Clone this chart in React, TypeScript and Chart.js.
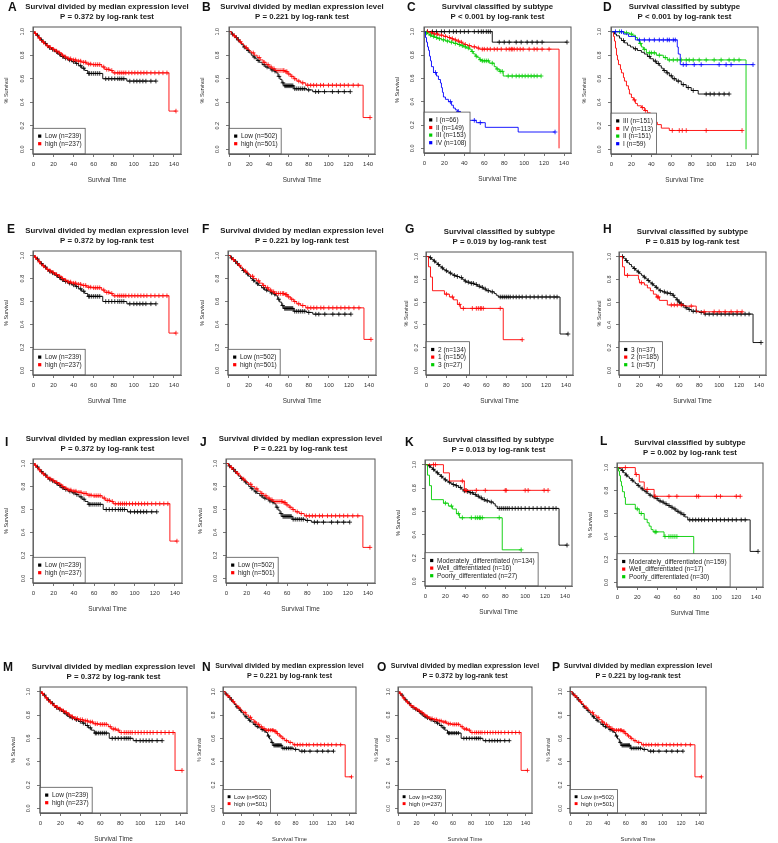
import React, { useEffect, useRef } from 'react';
import { Chart, registerables } from 'chart.js';

Chart.register(...registerables);

// ---------------- axis ticks ----------------
const xTicks = [0, 20, 40, 60, 80, 100, 120, 140];
const yTicks = [0, 0.2, 0.4, 0.6, 0.8, 1.0];

// ---------------- titles ----------------
const titleMedian = 'Survival divided by median expression level';
const titleSubtype = 'Survival classified by subtype';
const p372 = 'P = 0.372 by log-rank test';
const p221 = 'P = 0.221 by log-rank test';
const pC = 'P < 0.001 by log-rank test';
const pD = 'P < 0.001 by log-rank test';
const pG = 'P = 0.019 by log-rank test';
const pH = 'P = 0.815 by log-rank test';
const pK = 'P = 0.013 by log-rank test';
const pL = 'P = 0.002 by log-rank test';

// ---------------- legend labels ----------------
const legend372 = ['Low (n=239)', 'high (n=237)'];
const legend221 = ['Low (n=502)', 'high (n=501)'];
const legendC = ['I (n=66)', 'II (n=149)', 'III (n=153)', 'IV (n=108)'];
const legendD = ['III (n=151)', 'IV (n=113)', 'II (n=151)', 'I (n=59)'];
const legendG = ['2 (n=134)', '1 (n=150)', '3 (n=27)'];
const legendH = ['3 (n=37)', '2 (n=185)', '1 (n=57)'];
const legendK = ['Moderately_differentiated (n=134)', 'Well_differentiated (n=16)', 'Poorly_differentiated (n=27)'];
const legendL = ['Moderately_differentiated (n=159)', 'Well_differentiated (n=17)', 'Poorly_differentiated (n=30)'];

// ---------------- KM curves: steps [time, survival], censor times ----------------
const low239Steps = [[0,1],[1,0.99],[2,0.98],[3,0.97],[5,0.95],[7,0.93],[9,0.915],[11,0.9],[13,0.88],[15,0.865],[18,0.85],[21,0.83],[24,0.81],[27,0.79],[30,0.775],[34,0.76],[38,0.745],[42,0.73],[45,0.71],[48,0.69],[51,0.67],[54,0.645],[69,0.6],[93,0.58]];
const low239Cens = [4,8,12,16,19,23,26,29,32,36,40,43,47,50,55,56,58,60,62,64,66,72,75,78,81,84,86,88,90,96,100,103,106,109,112,117,122];
const high237Steps = [[0,1],[1,0.985],[3,0.965],[5,0.945],[7,0.925],[9,0.91],[11,0.895],[13,0.88],[16,0.865],[19,0.85],[22,0.835],[25,0.82],[28,0.8],[31,0.785],[34,0.77],[38,0.76],[43,0.75],[48,0.74],[53,0.725],[58,0.72],[68,0.7],[71,0.68],[76,0.67],[79,0.65],[135,0.325]];
const high237Cens = [2,6,10,14,17,20,23,26,29,32,35,37,40,42,45,47,50,52,55,57,60,62,64,66,70,73,75,78,81,84,86,88,90,92,95,98,101,104,107,110,113,117,121,125,129,133,142];

const low502Steps = [[0,1],[2,0.98],[4,0.965],[6,0.95],[8,0.93],[10,0.91],[12,0.89],[14,0.87],[16,0.855],[18,0.84],[20,0.82],[22,0.8],[24,0.785],[26,0.77],[28,0.755],[30,0.74],[33,0.72],[36,0.7],[39,0.69],[42,0.675],[45,0.665],[47,0.65],[49,0.62],[51,0.595],[53,0.565],[55,0.54],[65,0.515],[78,0.505],[84,0.49]];
const low502Cens = [3,7,9,15,19,25,29,35,38,43,46,50,54,56,57,58,59,60,61,62,63,64,66,68,70,72,74,76,80,87,90,96,104,110,116,122];
const high501Steps = [[0,1],[2,0.98],[4,0.965],[6,0.95],[8,0.93],[10,0.915],[12,0.9],[14,0.88],[16,0.865],[18,0.85],[20,0.835],[22,0.82],[25,0.8],[28,0.78],[31,0.76],[34,0.74],[37,0.72],[40,0.7],[43,0.685],[46,0.67],[56,0.66],[59,0.64],[62,0.62],[65,0.6],[68,0.58],[72,0.565],[77,0.545],[135,0.27]];
const high501Cens = [5,11,17,24,30,35,39,42,45,48,50,52,54,55,57,58,60,63,66,70,74,79,82,85,88,92,95,100,104,108,112,116,120,125,130,142];

const cBlackSteps = [[0,1],[68,0.91]];
const cBlackCens = [3,8,12,17,20,25,29,32,36,40,44,50,54,57,59,62,64,66,75,80,85,92,97,103,108,113,118,143];
const cRedSteps = [[0,1],[4,0.99],[9,0.98],[14,0.97],[19,0.96],[23,0.95],[26,0.94],[29,0.93],[32,0.92],[35,0.91],[38,0.9],[40,0.89],[43,0.88],[47,0.87],[52,0.86],[55,0.85],[135,0]];
const cRedCens = [3,7,10,13,17,21,25,28,31,34,37,41,45,50,54,58,60,63,66,70,73,77,82,85,87,88,90,93,96,99,105,110,113,118,125];
const cGreenSteps = [[0,1],[1,0.99],[3,0.98],[5,0.97],[7,0.96],[10,0.95],[13,0.94],[17,0.93],[21,0.92],[25,0.91],[29,0.9],[33,0.89],[36,0.88],[39,0.87],[42,0.86],[45,0.85],[47,0.83],[49,0.81],[51,0.79],[53,0.78],[55,0.76],[57,0.75],[65,0.73],[70,0.7],[72,0.68],[75,0.66],[79,0.62]];
const cGreenCens = [2,6,9,12,15,19,23,27,31,35,38,41,44,48,52,56,58,60,62,64,68,73,76,78,84,88,92,95,98,101,104,107,110,113,117];
const cBlueSteps = [[0,1],[1,0.95],[2,0.91],[3,0.87],[4,0.84],[5,0.79],[6,0.75],[7,0.7],[9,0.65],[12,0.62],[14,0.59],[16,0.56],[17,0.52],[18,0.48],[19,0.44],[21,0.42],[24,0.4],[27,0.37],[29,0.345],[31,0.33],[33,0.316],[36,0.29],[39,0.27],[43,0.24],[52,0.22],[61,0.18],[94,0.14]];
const cBlueCens = [11,26,34,50,56,131];

const dBlackSteps = [[0,1],[3,0.98],[5,0.965],[8,0.945],[10,0.925],[13,0.905],[16,0.885],[19,0.87],[22,0.855],[26,0.84],[30,0.825],[33,0.81],[36,0.79],[39,0.77],[42,0.75],[45,0.73],[48,0.71],[50,0.69],[52,0.67],[55,0.65],[58,0.625],[61,0.6],[65,0.58],[70,0.55],[75,0.525],[80,0.5],[87,0.47]];
const dBlackCens = [12,24,38,44,47,53,56,60,63,67,72,77,82,95,99,103,108,113,118];
const dRedSteps = [[0,1],[2,0.96],[3,0.92],[4,0.86],[5,0.8],[6,0.76],[7,0.72],[9,0.68],[10,0.65],[12,0.61],[13,0.58],[15,0.54],[17,0.51],[18,0.47],[20,0.44],[22,0.42],[24,0.39],[26,0.37],[30,0.355],[33,0.33],[36,0.31],[39,0.28],[41,0.26],[44,0.23],[46,0.21],[50,0.18],[58,0.16]];
const dRedCens = [23,31,34,61,68,71,75,95,131];
const dGreenSteps = [[0,1],[13,0.99],[18,0.98],[21,0.97],[24,0.95],[26,0.93],[28,0.9],[30,0.87],[32,0.85],[35,0.82],[45,0.8],[52,0.78],[56,0.76],[135,0]];
const dGreenCens = [8,15,20,29,33,38,40,43,48,54,58,62,66,70,75,78,82,88,95,103,110,118,123,128];
const dBlueSteps = [[0,1],[12,0.98],[17,0.96],[24,0.93],[66,0.87],[67,0.81],[69,0.72]];
const dBlueCens = [4,10,28,33,38,43,48,52,56,58,62,64,72,75,83,90,108,115,120,142];

const gBlackSteps = [[0,1],[3,0.99],[5,0.975],[7,0.96],[9,0.945],[11,0.93],[13,0.915],[15,0.9],[17,0.885],[19,0.875],[21,0.865],[23,0.855],[25,0.845],[27,0.835],[30,0.825],[33,0.815],[36,0.8],[38,0.785],[40,0.775],[44,0.765],[48,0.755],[51,0.74],[54,0.73],[57,0.715],[60,0.7],[64,0.69],[68,0.675],[70,0.66],[72,0.645],[134,0.32]];
const gBlackCens = [4,8,12,16,20,24,28,31,35,39,42,45,47,50,53,56,59,62,66,74,76,78,80,82,84,87,90,93,96,100,104,108,112,116,120,124,128,131,142];
const gRedSteps = [[0,1],[2,0.91],[4,0.82],[6,0.7],[18,0.67],[23,0.645],[27,0.62],[31,0.58],[34,0.545],[77,0.27]];
const gRedCens = [20,26,33,37,46,50,52,54,55,57,74,96];

const hBlackSteps = [[0,1],[4,0.985],[6,0.965],[8,0.945],[10,0.93],[12,0.91],[14,0.895],[16,0.88],[18,0.865],[20,0.85],[22,0.835],[24,0.82],[26,0.805],[28,0.79],[30,0.775],[32,0.76],[34,0.745],[36,0.73],[38,0.715],[40,0.7],[43,0.69],[46,0.68],[50,0.675],[53,0.66],[55,0.64],[57,0.62],[59,0.6],[61,0.585],[63,0.57],[66,0.55],[69,0.535],[72,0.52],[80,0.51],[85,0.495],[134,0.245]];
const hBlackCens = [3,7,15,19,25,29,33,37,41,45,48,51,54,58,60,62,64,67,70,74,77,82,86,90,94,98,102,106,110,114,118,122,126,130,142];
const hRedSteps = [[0,1],[3,0.91],[5,0.835],[19,0.8],[20,0.77],[25,0.75],[28,0.725],[31,0.7],[34,0.67],[37,0.645],[40,0.615],[48,0.575],[65,0.565],[77,0.515]];
const hRedCens = [8,22,38,39,52,55,58,62,72,85,95,100,106,112,118,123];

const kBlackSteps = [[0,1],[3,0.99],[5,0.975],[7,0.96],[9,0.945],[11,0.93],[13,0.915],[15,0.9],[17,0.885],[19,0.87],[21,0.86],[23,0.85],[25,0.84],[27,0.83],[30,0.82],[33,0.805],[36,0.79],[38,0.775],[41,0.77],[44,0.76],[48,0.745],[51,0.73],[54,0.715],[57,0.7],[60,0.69],[64,0.68],[68,0.665],[70,0.645],[72,0.625],[134,0.31]];
const kBlackCens = [4,8,12,16,20,24,28,31,35,39,42,45,47,50,53,56,59,62,66,74,76,78,80,82,84,87,90,93,96,100,104,108,112,116,120,124,128,131,142];
const kRedSteps = [[0,1],[18,0.93],[24,0.86],[39,0.78]];
const kRedCens = [8,10,37,40,41,51,60,80,81,100,103,119,123];
const kGreenSteps = [[0,1],[2,0.91],[4,0.82],[6,0.7],[18,0.67],[23,0.645],[27,0.62],[31,0.58],[34,0.545],[77,0.27]];
const kGreenCens = [20,26,33,37,46,50,52,54,55,57,74,96];

const lBlackSteps = [[0,1],[2,0.99],[4,0.975],[6,0.955],[8,0.935],[10,0.92],[12,0.905],[14,0.89],[16,0.875],[18,0.86],[20,0.845],[22,0.83],[24,0.815],[26,0.8],[28,0.79],[30,0.775],[32,0.76],[35,0.745],[38,0.73],[41,0.71],[44,0.7],[47,0.685],[50,0.67],[53,0.655],[56,0.64],[59,0.62],[62,0.605],[65,0.59],[68,0.57],[71,0.545],[134,0.27]];
const lBlackCens = [5,9,15,21,25,29,33,37,40,43,46,49,52,55,58,61,64,67,73,76,79,82,85,88,92,96,100,104,108,112,116,120,125,129,142];
const lRedSteps = [[0,1],[18,0.94],[22,0.875],[27,0.81],[37,0.75]];
const lRedCens = [8,19,30,38,52,60,80,82,100,104,120,124];
const lGreenSteps = [[0,1],[1,0.97],[2,0.93],[3,0.88],[4,0.84],[5,0.79],[7,0.74],[8,0.68],[18,0.64],[22,0.6],[27,0.55],[30,0.52],[32,0.49],[34,0.46],[36,0.44],[47,0.4],[77,0.13]];
const lGreenCens = [20,24,38,39,48,52,54,56,58,60];

// ---------------- styles ----------------
const BLACK = '#000000';
const RED = '#ff0000';
const GREEN = '#00cd00';
const BLUE = '#0000ff';
const FONT = '"Liberation Sans", Arial, Helvetica, sans-serif';

const SETS: any = {
  m372: { legend: legend372, colors: [BLACK, RED], curves: [[low239Steps, low239Cens, BLACK], [high237Steps, high237Cens, RED]] },
  m221: { legend: legend221, colors: [BLACK, RED], curves: [[low502Steps, low502Cens, BLACK], [high501Steps, high501Cens, RED]] },
  C: { legend: legendC, colors: [BLACK, RED, GREEN, BLUE], curves: [[cBlackSteps, cBlackCens, BLACK], [cRedSteps, cRedCens, RED], [cGreenSteps, cGreenCens, GREEN], [cBlueSteps, cBlueCens, BLUE]] },
  D: { legend: legendD, colors: [BLACK, RED, GREEN, BLUE], curves: [[dBlackSteps, dBlackCens, BLACK], [dRedSteps, dRedCens, RED], [dGreenSteps, dGreenCens, GREEN], [dBlueSteps, dBlueCens, BLUE]] },
  G: { legend: legendG, colors: [BLACK, RED, GREEN], curves: [[gBlackSteps, gBlackCens, BLACK], [gRedSteps, gRedCens, RED]] },
  H: { legend: legendH, colors: [BLACK, RED, GREEN], curves: [[hBlackSteps, hBlackCens, BLACK], [hRedSteps, hRedCens, RED]] },
  K: { legend: legendK, colors: [BLACK, RED, GREEN], curves: [[kBlackSteps, kBlackCens, BLACK], [kRedSteps, kRedCens, RED], [kGreenSteps, kGreenCens, GREEN]] },
  L: { legend: legendL, colors: [BLACK, RED, GREEN], curves: [[lBlackSteps, lBlackCens, BLACK], [lRedSteps, lRedCens, RED], [lGreenSteps, lGreenCens, GREEN]] },
};

// layout: plot box [left, top, right, bottom] in page px
const ROW_TOP = [0, 210, 420, 630];
const ROW_H = [210, 210, 210, 213];
const PANELS = [
  { key: 'A', box: [33, 27, 181, 154], row: 0, letter: [8, 7.5], title: [titleMedian, p372], set: 'm372', yt: 27, yl: 11, s: 1 },
  { key: 'B', box: [229, 27, 375, 154], row: 0, letter: [202, 7.5], title: [titleMedian, p221], set: 'm221', yt: 27, yl: 12, s: 1 },
  { key: 'C', box: [424, 27, 571, 153], row: 0, letter: [407, 7.5], title: [titleSubtype, pC], set: 'C', yt: 27, yl: 12, s: 1 },
  { key: 'D', box: [611, 27, 758, 154], row: 0, letter: [603, 8], title: [titleSubtype, pD], set: 'D', yt: 27, yl: 12, s: 1 },
  { key: 'E', box: [33, 251, 181, 375], row: 1, letter: [7, 230], title: [titleMedian, p372], set: 'm372', yt: 27, yl: 11, s: 1 },
  { key: 'F', box: [228, 251, 376, 375], row: 1, letter: [202, 230], title: [titleMedian, p221], set: 'm221', yt: 26, yl: 11, s: 1 },
  { key: 'G', box: [426, 252, 573, 375], row: 1, letter: [405, 230], title: [titleSubtype, pG], set: 'G', yt: 19.5, yl: 10, s: 1 },
  { key: 'H', box: [619, 252, 766, 375], row: 1, letter: [603, 230], title: [titleSubtype, pH], set: 'H', yt: 19.5, yl: 10, s: 1 },
  { key: 'I', box: [33, 459, 182, 583], row: 2, letter: [5, 443], title: [titleMedian, p372], set: 'm372', yt: 26.5, yl: 10, s: 1 },
  { key: 'J', box: [226, 459, 375, 583], row: 2, letter: [200, 443], title: [titleMedian, p221], set: 'm221', yt: 26, yl: 11, s: 1 },
  { key: 'K', box: [425, 460, 572, 586], row: 2, letter: [405, 443], title: [titleSubtype, pK], set: 'K', yt: 27, yl: 11, s: 1 },
  { key: 'L', box: [617, 463, 763, 587], row: 2, letter: [600, 442], title: [titleSubtype, pL], set: 'L', yt: 26.5, yl: 11, s: 1 },
  { key: 'M', box: [40, 687, 187, 813], row: 3, letter: [3, 668], title: [titleMedian, p372], set: 'm372', yt: 27, yl: 11.5, s: 1 },
  { key: 'N', box: [223, 687, 356, 813], row: 3, letter: [202, 668], title: [titleMedian, p221], set: 'm221', yt: 23, yl: 9.5, s: 0.91 },
  { key: 'O', box: [398, 687, 532, 813], row: 3, letter: [377, 668], title: [titleMedian, p372], set: 'm372', yt: 21.5, yl: 9, s: 0.91 },
  { key: 'P', box: [570, 687, 706, 813], row: 3, letter: [552, 668], title: [titleMedian, p221], set: 'm221', yt: 21.5, yl: 9, s: 0.91 },
];

const W_Y = 32; // y-scale width
const H_X = 30; // x-scale height

function buildPoints(steps: number[][], cens: number[]) {
  const pts: any[] = steps.map(([t, v]) => ({ x: t, y: v, c: false }));
  for (const t of cens) {
    let v = 1;
    for (const [st, sv] of steps) if (st <= t) v = sv;
    pts.push({ x: t, y: v, c: true });
  }
  pts.sort((a, b) => a.x - b.x || (a.c ? 1 : 0) - (b.c ? 1 : 0));
  return pts;
}

function Panel({ p }: { p: any }) {
  const ref = useRef<HTMLCanvasElement>(null);
  const [bl, bt, br, bb] = p.box;
  const cx = Math.max(0, bl - 42);
  const cw = Math.min(778, br + 12) - cx;
  const cy = ROW_TOP[p.row];
  const ch = ROW_H[p.row];

  useEffect(() => {
    const set = SETS[p.set];
    const s = p.s;
    const tickFont = { family: FONT, size: 6 * s };
    const yTickFont = { family: FONT, size: 5.5 * s };
    const yTitleFont = { family: FONT, size: 5.5 * s };
    const xTitleFont = { family: FONT, size: 6.4 * s };
    const yLabelWidest = 1.39 * 5.5 * s;

    const deco = {
      id: 'deco' + p.key,
      afterDatasetsDraw(chart: any) {
        const { ctx, chartArea: a } = chart;
        ctx.save();
        ctx.font = `${6.5 * s}px ${FONT}`;
        let tw = 0;
        for (const l of set.legend) tw = Math.max(tw, ctx.measureText(l).width);
        const w = 12 * s + tw + 3.5 * s;
        const eh = 7.6 * s;
        const h = 7.8 * s + (set.legend.length - 1) * eh + 10.3 * s;
        const lx = a.left;
        const ly = a.bottom - h;
        ctx.fillStyle = '#ffffff';
        ctx.fillRect(lx, ly, w, h);
        ctx.strokeStyle = '#555555';
        ctx.lineWidth = 0.8;
        ctx.strokeRect(lx, ly, w, h);
        ctx.textBaseline = 'middle';
        ctx.textAlign = 'left';
        set.legend.forEach((l: string, i: number) => {
          const yy = ly + 7.8 * s + i * eh;
          ctx.fillStyle = set.colors[i];
          ctx.fillRect(lx + 5.1 * s, yy - 1.6 * s, 3.2 * s, 3.2 * s);
          ctx.fillStyle = '#222222';
          ctx.fillText(l, lx + 12 * s, yy + 0.3);
        });
        ctx.restore();
      },
      afterDraw(chart: any) {
        const { ctx, chartArea: a } = chart;
        ctx.save();
        ctx.strokeStyle = '#555555';
        ctx.lineWidth = 1;
        ctx.strokeRect(a.left, a.top, a.right - a.left, a.bottom - a.top);
        ctx.fillStyle = '#1a1a1a';
        ctx.font = `bold ${7.8 * s}px ${FONT}`;
        ctx.textAlign = 'center';
        ctx.textBaseline = 'middle';
        const mx = (a.left + a.right) / 2;
        ctx.fillText(p.title[0], mx, a.top - 20.5);
        ctx.fillText(p.title[1], mx, a.top - 10.5);
        ctx.font = `bold 12px ${FONT}`;
        ctx.textAlign = 'left';
        ctx.fillStyle = '#111111';
        ctx.fillText(p.key, p.letter[0] - cx, p.letter[1] - cy);
        ctx.restore();
      },
    };

    const datasets = set.curves.map((cv: any, i: number) => ({
      type: 'line',
      data: buildPoints(cv[0], cv[1]),
      borderColor: cv[2],
      backgroundColor: cv[2],
      borderWidth: 0.9,
      stepped: 'before',
      fill: false,
      order: -i,
      pointStyle: 'cross',
      pointRadius: (c: any) => (c.raw && c.raw.c ? 2.3 * s : 0),
      pointHoverRadius: 0,
      pointBorderColor: cv[2],
      pointBorderWidth: 0.8,
    }));

    const chart = new Chart(ref.current as HTMLCanvasElement, {
      type: 'line',
      data: { datasets },
      plugins: [deco],
      options: {
        responsive: false,
        animation: false,
        events: [],
        layout: {
          padding: {
            left: bl - W_Y - cx,
            top: bt - cy,
            right: cx + cw - br,
            bottom: cy + ch - (bb + H_X),
          },
        },
        plugins: { legend: { display: false }, tooltip: { enabled: false }, title: { display: false } },
        scales: {
          x: {
            type: 'linear',
            min: -0.5,
            max: 147,
            afterBuildTicks: (sc: any) => { sc.ticks = xTicks.map((v) => ({ value: v })); },
            afterFit: (sc: any) => { sc.height = H_X; },
            grid: { display: true, drawOnChartArea: false, drawTicks: true, tickLength: 3, color: '#555555', lineWidth: 0.8 },
            border: { display: true, color: '#555555', width: 0.8 },
            ticks: { font: tickFont, color: '#333333', padding: 3.9, minRotation: 0, maxRotation: 0, autoSkip: false, callback: (v: any) => String(v) },
            title: { display: true, text: 'Survival Time', font: xTitleFont, color: '#333333', padding: { top: 0, bottom: 0.2 } },
          },
          y: {
            type: 'linear',
            min: -0.04,
            max: 1.04,
            afterBuildTicks: (sc: any) => { sc.ticks = yTicks.map((v) => ({ value: v })); },
            afterFit: (sc: any) => { sc.width = W_Y; },
            grid: { display: true, drawOnChartArea: false, drawTicks: true, tickLength: 3, color: '#555555', lineWidth: 0.8 },
            border: { display: true, color: '#555555', width: 0.8 },
            ticks: {
              font: yTickFont, color: '#333333', autoSkip: false, minRotation: 90, maxRotation: 90, crossAlign: 'center',
              padding: Math.max(0, p.yl - 3 - yLabelWidest / 2),
              callback: (v: any) => Number(v).toFixed(1),
            },
            title: { display: true, text: '% Survival', font: yTitleFont, color: '#333333', padding: { top: W_Y - p.yt - 3.3 * s, bottom: 0 } },
          },
        },
      } as any,
    } as any);
    return () => chart.destroy();
  }, []);

  return (
    <canvas
      ref={ref}
      width={cw}
      height={ch}
      style={{ position: 'absolute', left: cx, top: cy, width: cw, height: ch }}
    />
  );
}

export default function App() {
  return (
    <div style={{ position: 'absolute', left: 0, top: 0, width: 778, height: 843, overflow: 'hidden', background: '#ffffff' }}>
      {PANELS.map((p) => (
        <Panel key={p.key} p={p} />
      ))}
    </div>
  );
}
